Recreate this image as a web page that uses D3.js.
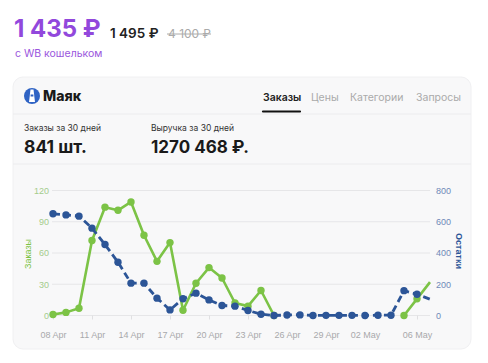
<!DOCTYPE html>
<html>
<head>
<meta charset="utf-8">
<script src="https://cdn.jsdelivr.net/npm/d3@7"></script>
<style>
  body { margin: 0; background: #fff; }
  svg text { font-family: Inter, "Noto Sans", sans-serif; }
</style>
</head>
<body>
<div id="chart"></div>
<script>
var width = 488, height = 363;

// data (null = no orders line drawn that day)
var days = ["2024-04-08","2024-04-09","2024-04-10","2024-04-11","2024-04-12","2024-04-13","2024-04-14",
  "2024-04-15","2024-04-16","2024-04-17","2024-04-18","2024-04-19","2024-04-20","2024-04-21","2024-04-22",
  "2024-04-23","2024-04-24","2024-04-25","2024-04-26","2024-04-27","2024-04-28","2024-04-29","2024-04-30",
  "2024-05-01","2024-05-02","2024-05-03","2024-05-04","2024-05-05","2024-05-06","2024-05-07"];
var orders = [1,3,7,72,104,101,109,77,52,70,5,31,46,36,12,9,24,0,null,null,null,null,null,null,null,null,null,0,16,32];
var stocks = [651,644,636,559,454,341,207,207,111,36,107,143,100,64,60,32,8,0,3,4,0,1,1,1,0,2,2,159,136,104];
var tickDays = ["2024-04-08","2024-04-11","2024-04-14","2024-04-17","2024-04-20","2024-04-23",
  "2024-04-26","2024-04-29","2024-05-02","2024-05-06"];
var tickLabels = ["08 Apr","11 Apr","14 Apr","17 Apr","20 Apr","23 Apr","26 Apr","29 Apr","02 May","06 May"];
var ordersTicks = [0,30,60,90,120];
var stockTicks = [0,200,400,600,800];
var tabs = ["Заказы","Цены","Категории","Запросы"];

var parse = d3.utcParse("%Y-%m-%d");
var green = "#7cc346", blue = "#2c5597";

var svg = d3.select("#chart")
  .append("svg")
  .attr("width", width)
  .attr("height", height);

// price header
svg.append("text")
  .attr("x", 14).attr("y", 37)
  .attr("font-size", 24).attr("font-weight", 700)
  .attr("fill", "#9248dc")
  .text("1 435 ₽");
svg.append("text")
  .attr("x", 110).attr("y", 38)
  .attr("font-size", 13.5).attr("font-weight", 600)
  .attr("fill", "#222")
  .text("1 495 ₽");
svg.append("text")
  .attr("x", 168).attr("y", 38)
  .attr("font-size", 12)
  .attr("fill", "#aaa")
  .text("4 100 ₽");
svg.append("line")
  .attr("x1", 167).attr("x2", 211)
  .attr("y1", 34).attr("y2", 34)
  .attr("stroke", "#aaa").attr("stroke-width", 1);
svg.append("text")
  .attr("x", 15).attr("y", 57)
  .attr("font-size", 10.5)
  .attr("fill", "#9a55dd")
  .text("с WB кошельком");

// card
svg.append("rect")
  .attr("x", 13).attr("y", 77)
  .attr("width", 458).attr("height", 272)
  .attr("rx", 10)
  .attr("fill", "#f8f8f9")
  .attr("stroke", "#f0f0f2");

// logo
svg.append("circle")
  .attr("cx", 32).attr("cy", 96).attr("r", 8)
  .attr("fill", "#2f63c4");
svg.append("path")
  .attr("d", "M30.5,89.5 L33.5,89.5 L35,102 L29,102 Z")
  .attr("fill", "#fff");
svg.append("rect")
  .attr("x", 30.6).attr("y", 94.5).attr("width", 2.8).attr("height", 2)
  .attr("fill", "#2f63c4");
svg.append("text")
  .attr("x", 43).attr("y", 101)
  .attr("font-size", 14).attr("font-weight", 800)
  .attr("fill", "#1a1a1a")
  .text("Маяк");

// tabs
var tabX = [263, 311, 350, 416];
svg.selectAll(".tab")
  .data(tabs)
  .enter().append("text")
  .attr("class", "tab")
  .attr("x", function(d, i) { return tabX[i]; })
  .attr("y", 101)
  .attr("font-size", 10.5)
  .attr("font-weight", function(d, i) { return i == 0 ? 600 : 400; })
  .attr("fill", function(d, i) { return i == 0 ? "#222" : "#aaa"; })
  .text(function(d) { return d; });
svg.append("line")
  .attr("x1", 263).attr("x2", 300)
  .attr("y1", 111.5).attr("y2", 111.5)
  .attr("stroke", "#111").attr("stroke-width", 2.2)
  .attr("stroke-linecap", "round");
svg.append("line")
  .attr("x1", 13).attr("x2", 471)
  .attr("y1", 114).attr("y2", 114)
  .attr("stroke", "#ececee");

// stats
svg.append("text").attr("x", 24).attr("y", 131)
  .attr("font-size", 8.5).attr("fill", "#333").text("Заказы за 30 дней");
svg.append("text").attr("x", 24).attr("y", 153)
  .attr("font-size", 17.5).attr("font-weight", 700).attr("fill", "#1a1a1a").text("841 шт.");
svg.append("text").attr("x", 151).attr("y", 131)
  .attr("font-size", 8.5).attr("fill", "#333").text("Выручка за 30 дней");
svg.append("text").attr("x", 151).attr("y", 153)
  .attr("font-size", 17).attr("font-weight", 700).attr("fill", "#1a1a1a").text("1270 468 ₽.");
svg.append("line")
  .attr("x1", 13).attr("x2", 471)
  .attr("y1", 164).attr("y2", 164)
  .attr("stroke", "#ececee");

// scales
var x = d3.scaleUtc()
  .domain([parse(days[0]), parse(days[days.length - 1])])
  .range([53, 430]);
var yOrders = d3.scaleLinear().domain([0, 120]).range([315.5, 190.5]);
var yStocks = d3.scaleLinear().domain([0, 800]).range([315.5, 190.5]);

// grid
svg.selectAll(".grid")
  .data(ordersTicks)
  .enter().append("line")
  .attr("class", "grid")
  .attr("x1", 52).attr("x2", 430)
  .attr("y1", function(d) { return yOrders(d); })
  .attr("y2", function(d) { return yOrders(d); })
  .attr("stroke", "#e6e6e8").attr("stroke-width", 1);

// axes
var xAxis = d3.axisBottom(x)
  .tickValues(tickDays.map(parse))
  .tickFormat(function(d, i) { return tickLabels[i]; })
  .tickSize(4).tickPadding(12);
var gx = svg.append("g")
  .attr("transform", "translate(0,315.5)")
  .call(xAxis);
gx.select(".domain").remove();
gx.selectAll("line").attr("stroke", "#e0e0e2");
gx.selectAll("text").attr("fill", "#a8a8ab").attr("font-size", 9)
  .style("font-family", "'Liberation Sans', Arial, sans-serif");

var gl = svg.append("g")
  .attr("transform", "translate(51,0)")
  .call(d3.axisLeft(yOrders).tickValues(ordersTicks).tickSize(0).tickPadding(2));
gl.select(".domain").remove();
gl.selectAll("text").attr("fill", "#a4cc8c").attr("font-size", 9)
  .style("font-family", "'Liberation Sans', Arial, sans-serif");

var gr = svg.append("g")
  .attr("transform", "translate(433,0)")
  .call(d3.axisRight(yStocks).tickValues(stockTicks).tickSize(0).tickPadding(3));
gr.select(".domain").remove();
gr.selectAll("text").attr("fill", "#6f89b8").attr("font-size", 9)
  .style("font-family", "'Liberation Sans', Arial, sans-serif");

svg.append("text")
  .attr("transform", "translate(31,254) rotate(-90)")
  .attr("text-anchor", "middle")
  .attr("font-size", 9).attr("fill", green)
  .style("font-family", "'Liberation Sans', Arial, sans-serif")
  .text("Заказы");
svg.append("text")
  .attr("transform", "translate(456,251) rotate(90)")
  .attr("text-anchor", "middle")
  .attr("font-size", 9).attr("font-weight", 700).attr("fill", blue)
  .style("font-family", "'Liberation Sans', Arial, sans-serif")
  .text("Остатки");

// series
var ordersData = days.map(function(d, i) { return { date: parse(d), value: orders[i] }; });
var stocksData = days.map(function(d, i) { return { date: parse(d), value: stocks[i] }; });

var lineOrders = d3.line()
  .defined(function(d) { return d.value != null; })
  .x(function(d) { return x(d.date); })
  .y(function(d) { return yOrders(d.value); });
var lineStocks = d3.line()
  .x(function(d) { return x(d.date); })
  .y(function(d) { return yStocks(d.value); });

svg.append("path")
  .datum(ordersData)
  .attr("d", lineOrders)
  .attr("fill", "none")
  .attr("stroke", green).attr("stroke-width", 2.6)
  .attr("stroke-linejoin", "round");
svg.selectAll(".dotOrders")
  .data(ordersData.slice(0, -1).filter(function(d) { return d.value != null; }))
  .enter().append("circle")
  .attr("class", "dotOrders")
  .attr("cx", function(d) { return x(d.date); })
  .attr("cy", function(d) { return yOrders(d.value); })
  .attr("r", 3.7)
  .attr("fill", green);

svg.append("path")
  .datum(stocksData)
  .attr("d", lineStocks)
  .attr("fill", "none")
  .attr("stroke", blue).attr("stroke-width", 2.8)
  .attr("stroke-dasharray", "7,4")
  .attr("stroke-linejoin", "round");
svg.selectAll(".dotStocks")
  .data(stocksData.slice(0, -1))
  .enter().append("circle")
  .attr("class", "dotStocks")
  .attr("cx", function(d) { return x(d.date); })
  .attr("cy", function(d) { return yStocks(d.value); })
  .attr("r", 3.7)
  .attr("fill", blue);
</script>
</body>
</html>
